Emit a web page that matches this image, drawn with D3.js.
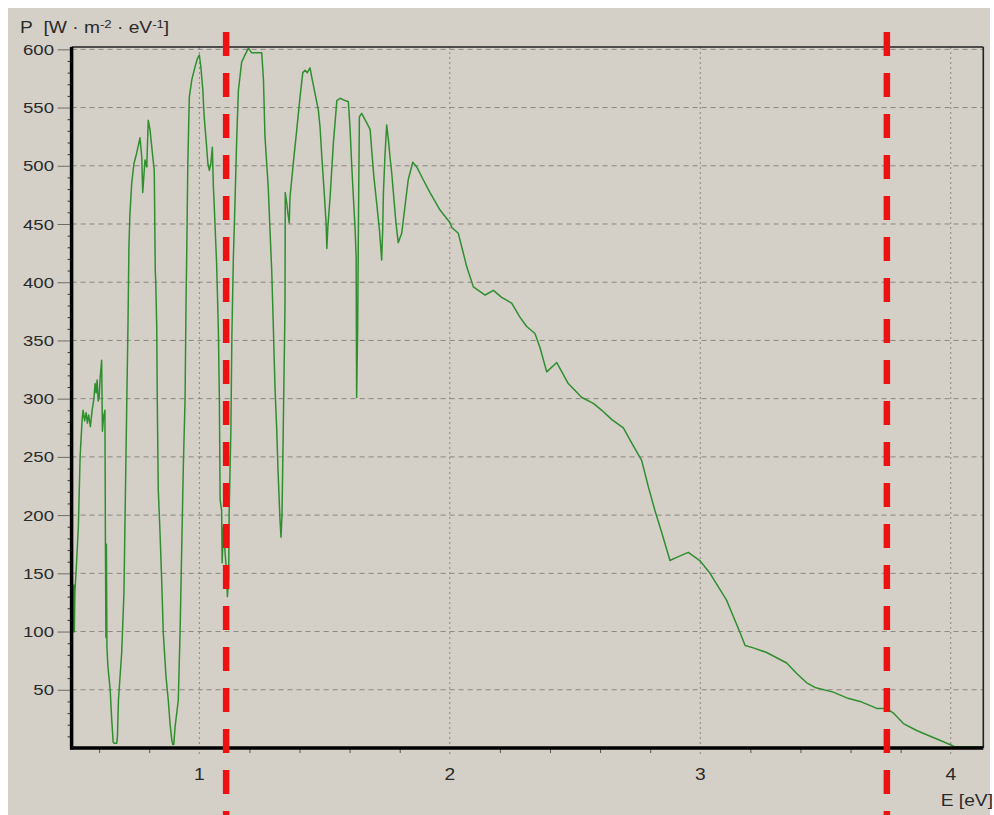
<!DOCTYPE html>
<html>
<head>
<meta charset="utf-8">
<script src="https://cdn.jsdelivr.net/npm/d3@7"></script>
<style>
  html, body { margin: 0; padding: 0; background: #ffffff; }
  svg { display: block; }
</style>
</head>
<body>
<svg id="chart" width="994" height="815"></svg>
<script>
// Spectral power density P (W·m⁻²·eV⁻¹) against photon energy E (eV)
const energy = [
  0.497, 0.499, 0.501, 0.503, 0.510, 0.517, 0.524, 0.532, 0.536, 0.542,
  0.548, 0.553, 0.558, 0.565, 0.572, 0.579, 0.584, 0.588, 0.592, 0.596,
  0.600, 0.604, 0.610, 0.613, 0.618, 0.623, 0.625, 0.627, 0.629, 0.631,
  0.635, 0.644, 0.650, 0.656, 0.660, 0.670, 0.673, 0.677, 0.690, 0.699,
  0.707, 0.715, 0.719, 0.723, 0.730, 0.739, 0.750, 0.763, 0.770, 0.774,
  0.783, 0.790, 0.796, 0.803, 0.814, 0.820, 0.824, 0.826, 0.830, 0.832,
  0.836, 0.843, 0.850, 0.856, 0.867, 0.876, 0.883, 0.890, 0.894, 0.898,
  0.903, 0.916, 0.923, 0.927, 0.936, 0.943, 0.947, 0.950, 0.954, 0.960,
  0.970, 0.983, 0.992, 1.000, 1.006, 1.014, 1.019, 1.027, 1.034, 1.040,
  1.046, 1.052, 1.056, 1.059, 1.069, 1.076, 1.080, 1.083, 1.089, 1.091,
  1.096, 1.103, 1.109, 1.112, 1.117, 1.119, 1.126, 1.130, 1.136, 1.143,
  1.149, 1.156, 1.169, 1.182, 1.196, 1.209, 1.249, 1.256, 1.262, 1.275,
  1.282, 1.289, 1.295, 1.302, 1.309, 1.314, 1.322, 1.326, 1.330, 1.335,
  1.342, 1.343, 1.349, 1.353, 1.359, 1.362, 1.375, 1.389, 1.402, 1.413,
  1.422, 1.431, 1.442, 1.449, 1.462, 1.475, 1.482, 1.489, 1.498, 1.506,
  1.509, 1.513, 1.522, 1.535, 1.549, 1.562, 1.582, 1.595, 1.602, 1.608,
  1.615, 1.622, 1.626, 1.628, 1.632, 1.635, 1.639, 1.648, 1.668, 1.682,
  1.688, 1.697, 1.708, 1.719, 1.728, 1.732, 1.735, 1.741, 1.748, 1.755,
  1.761, 1.768, 1.777, 1.785, 1.794, 1.808, 1.821, 1.834, 1.852, 1.868,
  1.894, 1.921, 1.961, 2.001, 2.008, 2.034, 2.048, 2.068, 2.094, 2.121,
  2.141, 2.174, 2.207, 2.247, 2.280, 2.307, 2.340, 2.360, 2.387, 2.427,
  2.473, 2.527, 2.573, 2.607, 2.647, 2.693, 2.726, 2.766, 2.793, 2.819,
  2.846, 2.879, 2.899, 2.952, 2.998, 3.039, 3.079, 3.105, 3.132, 3.159,
  3.179, 3.212, 3.265, 3.345, 3.385, 3.425, 3.458, 3.531, 3.585, 3.638,
  3.705, 3.744, 3.771, 3.811, 3.864, 3.930, 3.997, 4.017, 4.129
];
const power = [
  99, 140, 100, 133, 160, 190, 250, 282, 290, 281,
  288, 279, 286, 276, 290, 300, 313, 305, 316, 298,
  301, 318, 333, 272, 285, 290, 176, 95, 175, 87,
  70, 50, 25, 5, 4, 4, 10, 41, 82, 133,
  250, 362, 432, 459, 485, 502, 511, 524, 508, 477,
  505, 499, 539, 531, 508, 496, 410, 400, 360, 299,
  222, 185, 142, 99, 61, 41, 21, 7, 3, 3,
  18, 41, 99, 142, 241, 299, 385, 430, 502, 559,
  574, 585, 592, 595, 585, 565, 543, 522, 502, 496,
  502, 516, 482, 468, 416, 359, 299, 213, 204, 159,
  190, 167, 150, 130, 145, 202, 273, 356, 422, 473,
  522, 565, 589, 595, 601, 597, 597, 574, 525, 482,
  445, 410, 365, 310, 273, 239, 196, 181, 200, 273,
  379, 477, 468, 460, 451, 473, 502, 531, 559, 580,
  582, 580, 584, 576, 562, 548, 533, 508, 479, 451,
  429, 447, 473, 519, 556, 558, 556, 555, 531, 502,
  473, 445, 422, 301, 359, 445, 542, 545, 537, 531,
  514, 490, 468, 445, 419, 445, 477, 508, 535, 522,
  508, 494, 471, 451, 434, 442, 465, 488, 503, 499,
  488, 477, 462, 451, 447, 442, 430, 413, 396, 392,
  389, 393, 387, 382, 370, 362, 356, 344, 323, 331,
  313, 301, 296, 290, 282, 275, 262, 247, 224, 204,
  185, 161, 163, 168, 161, 150, 136, 127, 113, 99,
  88, 86, 82, 73, 64, 56, 52, 48, 43, 40,
  34, 34, 30, 21, 15, 9, 3, 1, 1
];

const yTickValues = [50, 100, 150, 200, 250, 300, 350, 400, 450, 500, 550, 600];
const xTickValues = [1, 2, 3, 4];
const markerEnergies = [1.107, 3.745];   // dashed reference energies
const yLabel = ["P\u00a0\u00a0[W\u00a0·\u00a0m", "-2", "\u00a0·\u00a0eV", "-1", "]"];
const xLabel = "E [eV]";

const svg = d3.select("#chart");
const FONT = "'Liberation Sans', Arial, sans-serif";
const TEXT_COLOR = "#2a2a2a";
const STRETCH = 1.2;

// window background
svg.append("rect").attr("x", 0).attr("y", 0).attr("width", 994).attr("height", 815).attr("fill", "#ffffff");
svg.append("rect").attr("x", 8).attr("y", 8).attr("width", 982).attr("height", 807).attr("fill", "#d4d0c8");

const x = d3.scaleLinear().domain([0.49, 4.13]).range([71.6, 983.3]);
const y = d3.scaleLinear().domain([0, 602]).range([748, 47]);
const [pl, pr] = x.range();
const [pb, pt] = y.range();

// horizontal dashed grid
svg.append("g").selectAll("line").data(yTickValues).join("line")
  .attr("x1", pl).attr("x2", pr)
  .attr("y1", d => y(d)).attr("y2", d => y(d))
  .attr("stroke", "#8a8680").attr("stroke-width", 1)
  .attr("stroke-dasharray", "5,4");

// vertical dotted grid
svg.append("g").selectAll("line").data(xTickValues).join("line")
  .attr("x1", d => x(d)).attr("x2", d => x(d))
  .attr("y1", pt).attr("y2", pb + 8)
  .attr("stroke", "#8a8680").attr("stroke-width", 1)
  .attr("stroke-dasharray", "2,3");

// minor ticks on the y axis, every 10
const yMinor = d3.range(10, 601, 10).filter(v => v % 50 !== 0);
const yAxisMinor = svg.append("g").attr("transform", `translate(${pl},0)`)
  .call(d3.axisLeft(y).tickValues(yMinor).tickSize(4).tickFormat(""));
yAxisMinor.select(".domain").remove();
yAxisMinor.selectAll(".tick line").attr("stroke", "#333").attr("stroke-width", 1);

// major ticks on the y axis
const yAxisMajor = svg.append("g").attr("transform", `translate(${pl},0)`)
  .call(d3.axisLeft(y).tickValues(yTickValues).tickSize(14).tickFormat(""));
yAxisMajor.select(".domain").remove();
yAxisMajor.selectAll(".tick line").attr("stroke", "#6e6a65").attr("stroke-width", 1);

// minor ticks on the x axis, every 0.2
const xMinor = d3.range(0.6, 4.1, 0.2).map(v => +v.toFixed(1)).filter(v => Math.abs(v - Math.round(v)) > 1e-6);
const xAxisMinor = svg.append("g").attr("transform", `translate(0,${pb})`)
  .call(d3.axisBottom(x).tickValues(xMinor).tickSize(5).tickFormat(""));
xAxisMinor.select(".domain").remove();
xAxisMinor.selectAll(".tick line").attr("stroke", "#555").attr("stroke-width", 1);

// y tick labels
svg.append("g").selectAll("text").data(yTickValues).join("text")
  .attr("transform", d => `translate(54,${y(d)}) scale(${STRETCH},1)`)
  .attr("dy", "0.36em")
  .attr("text-anchor", "end")
  .attr("font-family", FONT).attr("font-size", 15.5)
  .attr("fill", TEXT_COLOR)
  .text(d => d);

// x tick labels
svg.append("g").selectAll("text").data(xTickValues).join("text")
  .attr("transform", d => `translate(${x(d)},780) scale(${STRETCH},1)`)
  .attr("text-anchor", "middle")
  .attr("font-family", FONT).attr("font-size", 16)
  .attr("fill", TEXT_COLOR)
  .text(d => d);

// axis titles
const yt = svg.append("text")
  .attr("transform", `translate(20,33) scale(${STRETCH},1)`)
  .attr("font-family", FONT).attr("font-size", 16).attr("fill", TEXT_COLOR);
yt.append("tspan").text(yLabel[0]);
yt.append("tspan").attr("font-size", 11).attr("dy", -5).text(yLabel[1]);
yt.append("tspan").attr("dy", 5).text(yLabel[2]);
yt.append("tspan").attr("font-size", 11).attr("dy", -5).text(yLabel[3]);
yt.append("tspan").attr("dy", 5).text(yLabel[4]);

svg.append("text")
  .attr("transform", `translate(993,806) scale(${STRETCH},1)`)
  .attr("text-anchor", "end")
  .attr("font-family", FONT).attr("font-size", 16).attr("fill", TEXT_COLOR)
  .text(xLabel);

// spectrum curve
svg.append("defs").append("clipPath").attr("id", "plot-clip")
  .append("rect").attr("x", pl).attr("y", pt - 2).attr("width", pr - pl).attr("height", pb - pt + 2);

const line = d3.line().x((d, i) => x(energy[i])).y(d => y(d));
svg.append("path")
  .datum(power)
  .attr("clip-path", "url(#plot-clip)")
  .attr("d", line)
  .attr("fill", "none")
  .attr("stroke", "#2f8f2f")
  .attr("stroke-width", 1.5)
  .attr("stroke-linejoin", "round");

// frame: thin top/right border, heavy left/bottom axes
svg.append("line").attr("x1", pl).attr("x2", pr).attr("y1", pt).attr("y2", pt)
  .attr("stroke", "#222").attr("stroke-width", 1.6);
svg.append("line").attr("x1", pr).attr("x2", pr).attr("y1", pt).attr("y2", pb)
  .attr("stroke", "#222").attr("stroke-width", 1.6);
svg.append("line").attr("x1", pl).attr("x2", pl).attr("y1", pt).attr("y2", pb + 1.5)
  .attr("stroke", "#000").attr("stroke-width", 3.5);
svg.append("line").attr("x1", pl - 1.5).attr("x2", pr).attr("y1", pb).attr("y2", pb)
  .attr("stroke", "#000").attr("stroke-width", 3.5);

// red dashed reference energies
svg.append("g").selectAll("line").data(markerEnergies).join("line")
  .attr("x1", d => x(d)).attr("x2", d => x(d))
  .attr("y1", 32).attr("y2", 815)
  .attr("stroke", "#ee1111").attr("stroke-width", 6.5)
  .attr("stroke-dasharray", "24,17");
</script>
</body>
</html>
